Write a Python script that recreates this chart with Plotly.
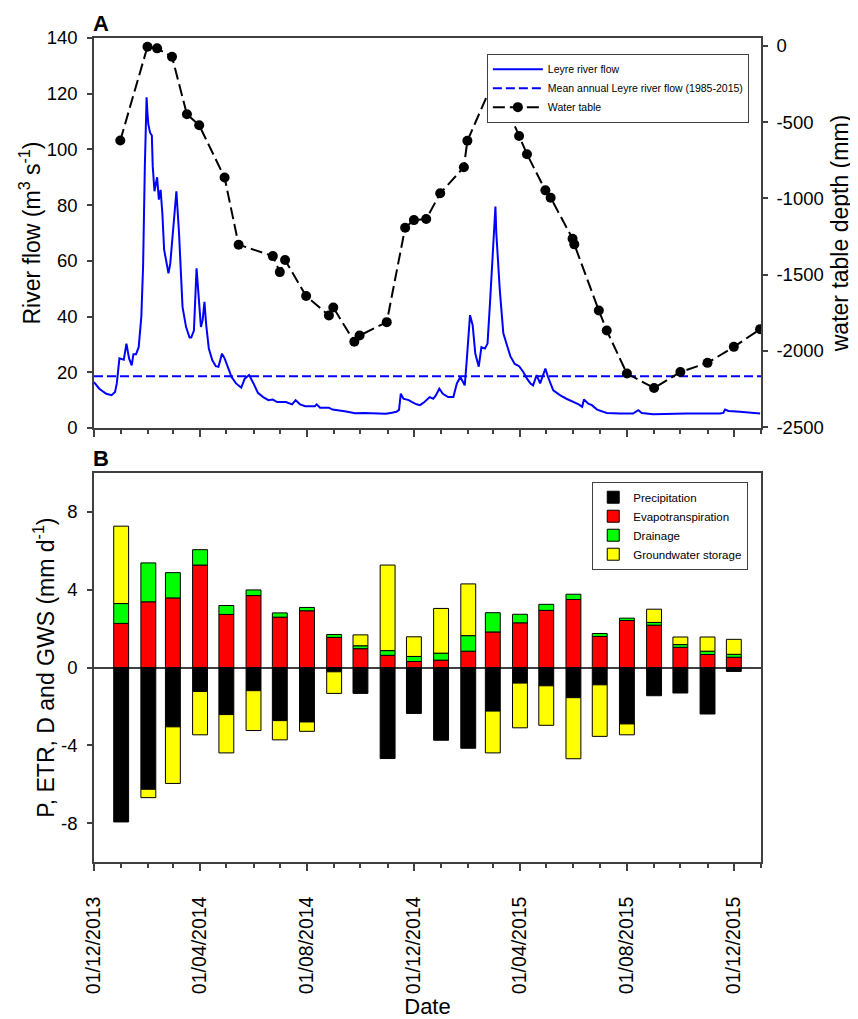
import plotly.graph_objects as go

# ---------------- DATA ----------------
x_start, x_end = "2013-12-01", "2016-01-01"

flow_dates = [
    "2013-12-01", "2013-12-07", "2013-12-15", "2013-12-21", "2013-12-25", "2013-12-27", "2013-12-30",
    "2014-01-01", "2014-01-04", "2014-01-07", "2014-01-10", "2014-01-13", "2014-01-15", "2014-01-18",
    "2014-01-21", "2014-01-24", "2014-01-26", "2014-01-28", "2014-01-30", "2014-01-31", "2014-02-01",
    "2014-02-03", "2014-02-05", "2014-02-06", "2014-02-08", "2014-02-11", "2014-02-13", "2014-02-15",
    "2014-02-17", "2014-02-19", "2014-02-22", "2014-02-24", "2014-02-26", "2014-03-01", "2014-03-03",
    "2014-03-05", "2014-03-08", "2014-03-10", "2014-03-12", "2014-03-16", "2014-03-20", "2014-03-22",
    "2014-03-25", "2014-03-28", "2014-03-30", "2014-04-02", "2014-04-04", "2014-04-06", "2014-04-08",
    "2014-04-11", "2014-04-15", "2014-04-19", "2014-04-22", "2014-04-26", "2014-04-29", "2014-05-03",
    "2014-05-07", "2014-05-12", "2014-05-18", "2014-05-22", "2014-05-27", "2014-06-01", "2014-06-06",
    "2014-06-12", "2014-06-18", "2014-06-23", "2014-06-28", "2014-07-08", "2014-07-15", "2014-07-19",
    "2014-07-24", "2014-07-30", "2014-08-10", "2014-08-12", "2014-08-16", "2014-08-26", "2014-08-30",
    "2014-09-13", "2014-09-25", "2014-10-05", "2014-10-20", "2014-10-30", "2014-11-06", "2014-11-11",
    "2014-11-14", "2014-11-16", "2014-11-19", "2014-11-25", "2014-11-29", "2014-12-04", "2014-12-08",
    "2014-12-13", "2014-12-19", "2014-12-23", "2014-12-26", "2014-12-30", "2015-01-03", "2015-01-09",
    "2015-01-15", "2015-01-19", "2015-01-23", "2015-01-28", "2015-01-30", "2015-02-01", "2015-02-03",
    "2015-02-06", "2015-02-09", "2015-02-13", "2015-02-16", "2015-02-20", "2015-02-23", "2015-02-26",
    "2015-03-01", "2015-03-04", "2015-03-05", "2015-03-09", "2015-03-13", "2015-03-17", "2015-03-21",
    "2015-03-26", "2015-03-31", "2015-04-05", "2015-04-09", "2015-04-13", "2015-04-16", "2015-04-20",
    "2015-04-24", "2015-04-30", "2015-05-03", "2015-05-09", "2015-05-17", "2015-05-24", "2015-06-01",
    "2015-06-07", "2015-06-11", "2015-06-13", "2015-06-18", "2015-06-22", "2015-06-28", "2015-07-09",
    "2015-07-24", "2015-08-08", "2015-08-14", "2015-08-18", "2015-08-31", "2015-09-23", "2015-10-08",
    "2015-11-15", "2015-11-19", "2015-11-21", "2015-11-25", "2015-12-08", "2015-12-31",
]
flow_vals = [
    16.5, 14.1, 12.3, 11.8, 12.9, 16.0, 25.0,
    24.8, 24.5, 30.3, 25.0, 22.5, 26.5, 26.5,
    29.0, 40.0, 58.0, 94.0, 118.7, 113.0, 109.0,
    106.0, 105.0, 94.0, 85.0, 90.0, 82.0, 85.5,
    77.0, 64.0, 59.0, 55.5, 59.0, 70.5, 76.0,
    85.0, 70.0, 55.5, 43.5, 36.3, 32.5, 32.5,
    35.0, 57.3, 49.5, 36.3, 38.7, 45.3, 37.0,
    28.5, 24.3, 22.2, 22.0, 26.7, 25.0, 21.3,
    18.3, 16.0, 14.5, 17.7, 19.0, 16.0, 12.6,
    11.1, 10.0, 10.2, 9.3, 9.3, 8.5, 10.0,
    8.5, 7.8, 7.8, 8.5, 7.3, 7.3, 6.6,
    6.0, 5.3, 5.4, 5.2, 5.1, 5.5, 5.8,
    6.5, 12.3, 10.5, 10.0, 9.3, 8.5, 8.2,
    9.3, 11.1, 10.5, 11.7, 14.1, 12.3, 11.1,
    11.1, 16.0, 18.3, 15.3, 23.1, 34.0, 40.5,
    37.0, 26.7, 22.0, 29.0, 28.5, 30.3, 46.0,
    64.0, 79.5, 70.0, 49.5, 34.0, 29.7, 25.8,
    23.0, 22.2, 20.0, 17.7, 16.0, 15.3, 19.0,
    16.0, 21.3, 18.3, 13.5, 11.7, 10.5, 9.3,
    8.5, 7.6, 10.2, 8.7, 8.2, 6.6, 5.4,
    5.2, 5.2, 6.4, 5.4, 4.9, 5.2, 5.2,
    5.2, 5.4, 6.6, 6.1, 5.8, 5.2,
]
mean_flow = 18.6

wt_dates = [
    "2013-12-31", "2014-01-31", "2014-02-11", "2014-02-28", "2014-03-17", "2014-03-31", "2014-04-29",
    "2014-05-15", "2014-06-23", "2014-07-01", "2014-07-07", "2014-07-31", "2014-08-26", "2014-08-31",
    "2014-09-24", "2014-09-30", "2014-10-31", "2014-11-21", "2014-12-01", "2014-12-15", "2014-12-31",
    "2015-01-27", "2015-01-31", "2015-03-03", "2015-03-31", "2015-04-09", "2015-04-30", "2015-05-06",
    "2015-05-31", "2015-06-02", "2015-06-30", "2015-07-09", "2015-08-01", "2015-09-01", "2015-10-01",
    "2015-11-01", "2015-12-01", "2015-12-31",
]
wt_depth = [
    -620, -5, -16, -71, -448, -520, -863,
    -1303, -1378, -1483, -1404, -1640, -1767, -1715,
    -1940, -1899, -1811, -1192, -1142, -1135, -966,
    -795, -622, -215, -590, -710, -947, -995,
    -1264, -1301, -1735, -1866, -2148, -2243, -2138,
    -2078, -1973, -1857,
]

bar_months = [
    "2014-01-01", "2014-02-01", "2014-03-01", "2014-04-01", "2014-05-01", "2014-06-01",
    "2014-07-01", "2014-08-01", "2014-09-01", "2014-10-01", "2014-11-01", "2014-12-01",
    "2015-01-01", "2015-02-01", "2015-03-01", "2015-04-01", "2015-05-01", "2015-06-01",
    "2015-07-01", "2015-08-01", "2015-09-01", "2015-10-01", "2015-11-01", "2015-12-01",
]
precip = [-7.94, -6.26, -3.05, -1.23, -2.42, -1.19, -2.73, -2.80, -0.22, -1.33, -4.68, -2.36,
          -3.74, -4.15, -2.24, -0.80, -0.94, -1.55, -0.89, -2.90, -1.45, -1.31, -2.39, -0.20]
etr = [2.27, 3.38, 3.58, 5.27, 2.73, 3.70, 2.59, 2.92, 1.55, 0.97, 0.63, 0.31,
       0.38, 0.84, 1.83, 2.30, 2.94, 3.50, 1.60, 2.42, 2.18, 1.04, 0.67, 0.53]
drainage = [1.02, 2.00, 1.30, 0.79, 0.46, 0.29, 0.22, 0.17, 0.15, 0.15, 0.24, 0.26,
            0.36, 0.80, 0.99, 0.44, 0.31, 0.27, 0.15, 0.12, 0.14, 0.14, 0.17, 0.15]
gws = [3.98, -0.43, -2.91, -2.23, -1.97, -2.05, -0.99, -0.48, -1.11, 0.56, 4.40, 1.01,
       2.30, 2.66, -2.15, -2.30, -2.03, -3.14, -2.65, -0.56, 0.68, 0.39, 0.73, 0.77]

flow_ticks = [0, 20, 40, 60, 80, 100, 120, 140]
depth_ticks = [0, -500, -1000, -1500, -2000, -2500]
balance_ticks = [-8, -4, 0, 4, 8]

# ---------------- FIGURE ----------------
FONT = "Arial, 'Liberation Sans', sans-serif"
AX = "#404040"
fig = go.Figure()

fig.add_trace(go.Scatter(x=flow_dates, y=flow_vals, mode="lines", name="Leyre river flow",
                         line=dict(color="#0000FF", width=2), xaxis="x2", yaxis="y2", legend="legend"))
fig.add_trace(go.Scatter(x=[x_start, x_end], y=[mean_flow, mean_flow], mode="lines",
                         name="Mean annual Leyre river flow (1985-2015)",
                         line=dict(color="#0000FF", width=2, dash="9px,4px"), xaxis="x2", yaxis="y2",
                         legend="legend"))
fig.add_trace(go.Scatter(x=wt_dates, y=wt_depth, mode="lines+markers", name="Water table",
                         line=dict(color="black", width=2, dash="12px,5px"),
                         marker=dict(size=10, color="black"), xaxis="x2", yaxis="y3", legend="legend"))

bar_w = 17 * 86400000
for name, vals, col in [("Precipitation", precip, "#000000"),
                        ("Evapotranspiration", etr, "#FF0000"),
                        ("Drainage", drainage, "#00FF00"),
                        ("Groundwater storage", gws, "#FFFF00")]:
    fig.add_trace(go.Bar(x=bar_months, y=vals, width=bar_w, name=name,
                         marker=dict(color=col, line=dict(color="black", width=1)),
                         xaxis="x", yaxis="y", legend="legend2"))

common = dict(showline=True, linecolor=AX, linewidth=1.5, ticks="outside", tickcolor=AX, tickwidth=1.5,
              showgrid=False, zeroline=False, automargin=False,
              tickfont=dict(size=18.5, color="black", family=FONT))

xcommon = dict(common, type="date", range=[x_start, x_end], tick0=x_start, dtick="M4",
               tickformat="%d/%m/%Y", ticklen=7, mirror=True,
               minor=dict(tick0=x_start, dtick="M1", ticks="outside", ticklen=4,
                          tickcolor=AX, tickwidth=1.5, showgrid=False))

fig.update_layout(
    width=850, height=1011,
    margin=dict(l=86, r=97, t=30, b=157),
    paper_bgcolor="white", plot_bgcolor="white",
    font=dict(family=FONT, color="black"),
    barmode="relative",
    xaxis=dict(xcommon, domain=[0, 1], anchor="y", tickangle=-90,
               tickfont=dict(size=19.5, color="black", family=FONT), ticklabelstandoff=18,
               title=dict(text="Date", font=dict(size=22), standoff=10)),
    xaxis2=dict(xcommon, domain=[0, 1], anchor="y2", matches="x", showticklabels=False),
    yaxis=dict(common, domain=[0, 0.472], range=[-10, 10], tickmode="array", tickvals=balance_ticks,
               ticktext=[str(v) for v in balance_ticks], ticklen=5, mirror=True, ticklabelstandoff=6,
               zeroline=True, zerolinecolor=AX, zerolinewidth=1.5,
               title=dict(text="P, ETR, D and GWS (mm d<sup>-1</sup>)", font=dict(size=23), standoff=0)),
    yaxis2=dict(common, domain=[0.5267, 1], range=[0, 140], tickmode="array", tickvals=flow_ticks,
                ticktext=[str(v) for v in flow_ticks], ticklen=5, anchor="x2", ticklabelstandoff=6,
                title=dict(text="River flow (m<sup>3</sup> s<sup>-1</sup>)", font=dict(size=23), standoff=0)),
    yaxis3=dict(common, overlaying="y2", side="right", anchor="x2", range=[-2505, 52],
                tickmode="array", tickvals=depth_ticks, ticktext=[str(v) for v in depth_ticks], ticklen=5,
                ticklabelstandoff=5,
                title=dict(text="water table depth (mm)", font=dict(size=23), standoff=9)),
    legend=dict(x=0.589, y=0.981, xanchor="left", yanchor="top", bgcolor="white",
                bordercolor=AX, borderwidth=1, font=dict(size=10.5), itemwidth=50, traceorder="normal"),
    legend2=dict(x=0.747, y=0.4615, xanchor="left", yanchor="top", bgcolor="white",
                 bordercolor=AX, borderwidth=1, font=dict(size=11.5), traceorder="normal"),
    annotations=[
        dict(text="<b>A</b>", x=-0.005, y=1.018, xref="paper", yref="paper", xanchor="left",
             yanchor="middle", showarrow=False, font=dict(size=22)),
        dict(text="<b>B</b>", x=-0.005, y=0.490, xref="paper", yref="paper", xanchor="left",
             yanchor="middle", showarrow=False, font=dict(size=22)),
    ],
)

fig.write_html("out.html")
